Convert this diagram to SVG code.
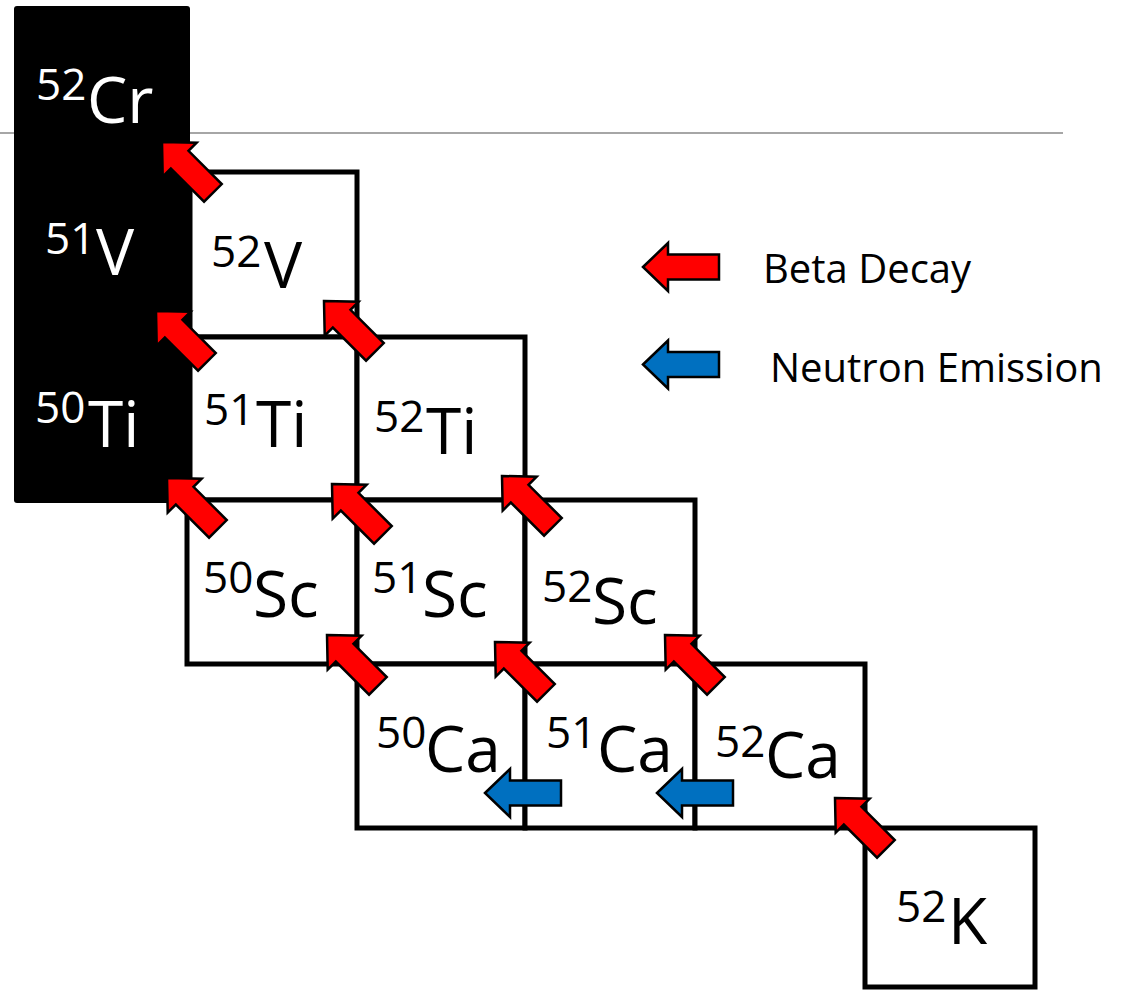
<svg xmlns="http://www.w3.org/2000/svg" xmlns:xlink="http://www.w3.org/1999/xlink" width="1144" height="992" viewBox="0 0 1144 992">
<defs>
<style>
.box{fill:#ffffff;stroke:#000000;stroke-width:5;stroke-linejoin:miter}
.lbl{font-family:"Open Sans","Noto Sans","Liberation Sans",sans-serif;fill:#000000}
.w{fill:#ffffff}
.sup{font-size:44px}
.main{font-size:64px}
.leg{font-family:"Open Sans","Noto Sans","Liberation Sans",sans-serif;font-size:40px;fill:#000000}
.red{fill:#ff0000;stroke:#000000;stroke-width:2.5;stroke-linejoin:miter}
.blue{fill:#0070c0;stroke:#000000;stroke-width:2.5;stroke-linejoin:miter}
</style>
<path id="arrL" d="M0,0 L25,-24 L25,-12.5 L76,-12.5 L76,12.5 L25,12.5 L25,24 Z"/>
<path id="arrD" d="M0,0 L25,-24 L25,-12.5 L72,-12.5 L72,12.5 L25,12.5 L25,24 Z"/>
</defs>
<rect width="1144" height="992" fill="#ffffff"/>
<line x1="0" y1="133" x2="1063" y2="133" stroke="#a6a6a6" stroke-width="2"/>

<g id="stable">
<rect x="14" y="6" width="176" height="497" rx="3" fill="#000000"/>
</g>
<g id="Cr52"><text class="lbl w"><tspan class="sup" x="36" y="100">52</tspan><tspan class="main" x="87" y="123">Cr</tspan></text></g>
<g id="V51"><text class="lbl w"><tspan class="sup" x="45" y="254">51</tspan><tspan class="main" x="96" y="275">V</tspan></text></g>
<g id="Ti50"><text class="lbl w"><tspan class="sup" x="35" y="423">50</tspan><tspan class="main" x="88" y="447">Ti</tspan></text></g>

<g id="V52"><rect class="box" x="190" y="172" width="167" height="165"/><text class="lbl"><tspan class="sup" x="211" y="267">52</tspan><tspan class="main" x="264" y="288">V</tspan></text></g>
<g id="Ti51"><rect class="box" x="190" y="337" width="167" height="163"/><text class="lbl"><tspan class="sup" x="204" y="425">51</tspan><tspan class="main" x="256" y="447">Ti</tspan></text></g>
<g id="Ti52"><rect class="box" x="357" y="337" width="168" height="163"/><text class="lbl"><tspan class="sup" x="374" y="432">52</tspan><tspan class="main" x="426" y="454">Ti</tspan></text></g>
<g id="Sc50"><rect class="box" x="187" y="500" width="170" height="164"/><text class="lbl"><tspan class="sup" x="203" y="593">50</tspan><tspan class="main" x="253" y="617">Sc</tspan></text></g>
<g id="Sc51"><rect class="box" x="357" y="500" width="168" height="164"/><text class="lbl"><tspan class="sup" x="372" y="593">51</tspan><tspan class="main" x="422" y="617">Sc</tspan></text></g>
<g id="Sc52"><rect class="box" x="525" y="500" width="170" height="164"/><text class="lbl"><tspan class="sup" x="542" y="602">52</tspan><tspan class="main" x="592" y="624">Sc</tspan></text></g>
<g id="Ca50"><rect class="box" x="357" y="664" width="168" height="164"/><text class="lbl"><tspan class="sup" x="376" y="748">50</tspan><tspan class="main" x="425" y="772">Ca</tspan></text></g>
<g id="Ca51"><rect class="box" x="525" y="664" width="170" height="164"/><text class="lbl"><tspan class="sup" x="546" y="748">51</tspan><tspan class="main" x="597" y="772">Ca</tspan></text></g>
<g id="Ca52"><rect class="box" x="695" y="664" width="170" height="164"/><text class="lbl"><tspan class="sup" x="715" y="757">52</tspan><tspan class="main" x="765" y="778">Ca</tspan></text></g>
<g id="K52"><rect class="box" x="865" y="828" width="170" height="159"/><text class="lbl"><tspan class="sup" x="896" y="922">52</tspan><tspan class="main" x="948" y="944">K</tspan></text></g>

<g id="connectors">
<use xlink:href="#arrD" class="red" transform="translate(162,142) rotate(45)"/>
<use xlink:href="#arrD" class="red" transform="translate(156,311) rotate(45)"/>
<use xlink:href="#arrD" class="red" transform="translate(324,301) rotate(45)"/>
<use xlink:href="#arrD" class="red" transform="translate(167,478) rotate(45)"/>
<use xlink:href="#arrD" class="red" transform="translate(332,484) rotate(45)"/>
<use xlink:href="#arrD" class="red" transform="translate(502,476) rotate(45)"/>
<use xlink:href="#arrD" class="red" transform="translate(327,635) rotate(45)"/>
<use xlink:href="#arrD" class="red" transform="translate(495,642) rotate(45)"/>
<use xlink:href="#arrD" class="red" transform="translate(665,635) rotate(45)"/>
<use xlink:href="#arrD" class="red" transform="translate(835,798) rotate(45)"/>
<use xlink:href="#arrL" class="blue" transform="translate(485,793)"/>
<use xlink:href="#arrL" class="blue" transform="translate(657,793)"/>
</g>

<g id="legend">
<use xlink:href="#arrL" class="red" transform="translate(643,267)"/>
<text class="leg" x="763" y="283">Beta Decay</text>
<use xlink:href="#arrL" class="blue" transform="translate(643,364.5)"/>
<text class="leg" x="770" y="382">Neutron Emission</text>
</g>
</svg>
